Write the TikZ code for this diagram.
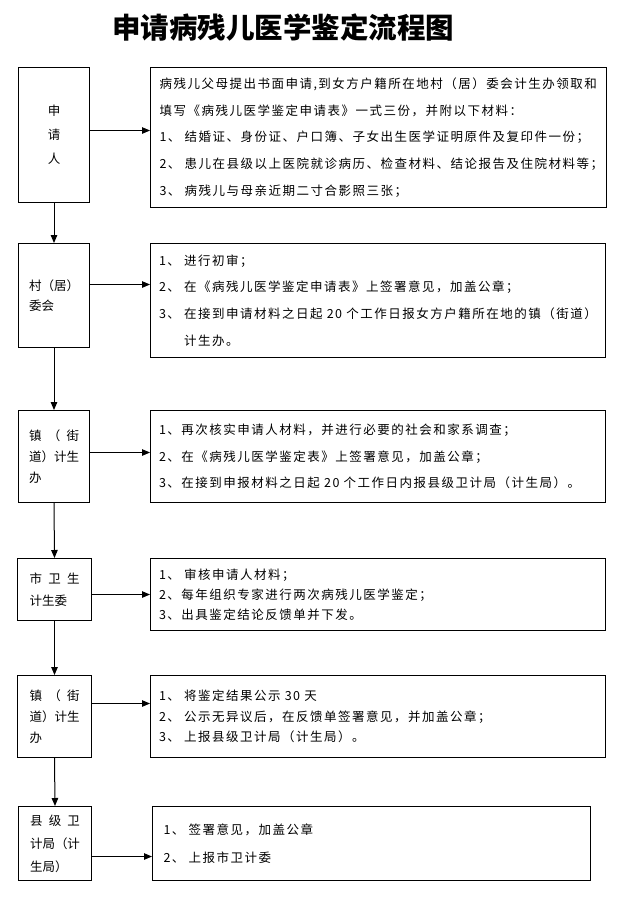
\documentclass[tikz,border=0pt]{standalone}
\usepackage{fontspec}
\usetikzlibrary{arrows.meta}
\newfontfamily\cjk[LetterSpace=12]{Noto Sans CJK SC}
\newfontfamily\cjkplain{Noto Sans CJK SC}
\newcommand\spreadline[1]{\makebox[50pt][s]{#1}}
\tikzset{
  lbox/.style={draw, anchor=north west, inner sep=0pt, text width=50pt, align=left,
    font=\cjkplain\fontsize{12.5}{21}\selectfont},
  rbox/.style={draw, anchor=north west, inner sep=0pt, text width=438pt, align=left,
    font=\cjk\fontsize{12.5}{26.7}\selectfont},
}
\begin{document}
\begin{tikzpicture}[x=1pt, y=-1pt, line width=1pt, >={Triangle[length=8pt,width=6.5pt]}]
  \useasboundingbox (0,0) rectangle (623,897);
  % title
  \node[font=\cjkplain\bfseries\fontsize{28.5}{30}\selectfont] (title) at (283,28) {申请病残儿医学鉴定流程图};
  % left column
  \node[lbox, align=center, minimum width=71, minimum height=135, font=\cjkplain\fontsize{12.5}{24}\selectfont] (sq) at (18,67) {申\\请\\人};
  \node[lbox, minimum width=71, minimum height=104, font=\cjkplain\fontsize{12.5}{20}\selectfont] (cw) at (18,243) {村（居）\\委会};
  \node[lbox, minimum width=71, minimum height=92] (zj) at (18,410) {\spreadline{镇\hfil{}（\hfil{}街}\\道）计生\\办};
  \node[lbox, minimum width=74, minimum height=62, font=\cjkplain\fontsize{12.5}{22}\selectfont] (swj) at (17,558) {\spreadline{市\hfil{}卫\hfil{}生}\\计生委};
  \node[lbox, minimum width=74, minimum height=82] (zjb) at (17,675) {\spreadline{镇\hfil{}（\hfil{}街}\\道）计生\\办};
  \node[lbox, minimum width=73, minimum height=74, font=\cjkplain\fontsize{12.5}{23}\selectfont] (xwj) at (18,806) {\spreadline{县\hfil{}级\hfil{}卫}\\计局（计\\生局）};
  % right column
  \node[rbox, minimum width=456, minimum height=140] (sqr) at (150,67) {病残儿父母提出书面申请,到女方户籍所在地村（居）委会计生办领取和\\
    填写《病残儿医学鉴定申请表》一式三份，并附以下材料：\\
    1、 结婚证、身份证、户口簿、子女出生医学证明原件及复印件一份；\\
    2、 患儿在县级以上医院就诊病历、检查材料、结论报告及住院材料等；\\
    3、 病残儿与母亲近期二寸合影照三张；};
  \node[rbox, minimum width=455, minimum height=114] (cwr) at (150,243) {1、 进行初审；\\
    2、 在《病残儿医学鉴定申请表》上签署意见，加盖公章；\\
    3、 在接到申请材料之日起 20 个工作日报女方户籍所在地的镇（街道）\\
    \phantom{3、 }计生办。};
  \node[rbox, minimum width=455, minimum height=92] (zjr) at (150,410) {1、再次核实申请人材料，并进行必要的社会和家系调查；\\
    2、在《病残儿医学鉴定表》上签署意见，加盖公章；\\
    3、在接到申报材料之日起 20 个工作日内报县级卫计局（计生局）。};
  \node[rbox, minimum width=455, minimum height=72, font=\cjk\fontsize{12.5}{20}\selectfont] (swjr) at (150,558) {1、 审核申请人材料；\\
    2、每年组织专家进行两次病残儿医学鉴定；\\
    3、出具鉴定结论反馈单并下发。};
  \node[rbox, minimum width=455, minimum height=82, font=\cjk\fontsize{12.5}{20.5}\selectfont] (zjbr) at (150,675) {1、 将鉴定结果公示 30 天\\
    2、 公示无异议后，在反馈单签署意见，并加盖公章；\\
    3、 上报县级卫计局（计生局）。};
  \node[rbox, text width=416pt, minimum width=438, minimum height=74, font=\cjk\fontsize{12.5}{28}\selectfont] (xwjr) at (152,806) {1、 签署意见，加盖公章\\
    2、 上报市卫计委};
  % connectors
  \foreach \a/\b in {sq/cw, cw/zj, zj/swj, swj/zjb, zjb/xwj}
    \draw[->] (\a.south) -- (\b.north);
  \foreach \a/\b/\s in {sq/sqr/4.5, cw/cwr/11, zj/zjr/4, swj/swjr/-5, zjb/zjbr/13, xwj/xwjr/-13}
    \draw[->] ([yshift=\s pt]\a.east) coordinate (h\a) -- (h\a -| \b.west);
\end{tikzpicture}
\end{document}
